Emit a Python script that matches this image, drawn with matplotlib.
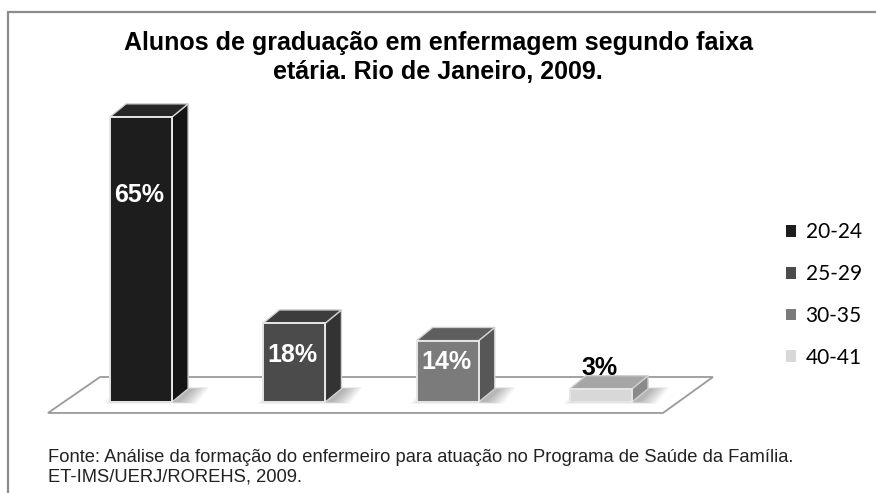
import numpy as np
import matplotlib.pyplot as plt
from matplotlib.patches import Polygon, Rectangle, Patch

faixas = ['20-24', '25-29', '30-35', '40-41']
valores = [65, 18, 14, 3]
rotulos = ['65%', '18%', '14%', '3%']
cor_frente = ['#1d1d1d', '#4b4b4b', '#7b7b7b', '#d8d8d8']
cor_lado = ['#141414', '#333333', '#575757', '#8a8a8a']
cor_topo = ['#262626', '#3d3d3d', '#5e5e5e', '#a6a6a6']
cor_texto = ['white', 'white', 'white', 'black']

W, H = 876, 493
fig = plt.figure(figsize=(W / 100, H / 100), dpi=100)

# moldura (cortada a direita e embaixo)
fig.patches.append(Rectangle((8 / W, -0.1), 1.2, 1 - 12 / H + 0.1, transform=fig.transFigure,
                             fill=False, ec='#8c8c8c', lw=1.6))

# eixos: centro da barra i em 141 + 153.3*i px, valor 0 em y=402 px, 4.385 px por %
esq, dir_, topo, base = 40, 730, 80, 420
ax = fig.add_axes([esq / W, 1 - base / H, (dir_ - esq) / W, (base - topo) / H])
ax.set_xlim((esq - 141) / 153.3, (dir_ - 141) / 153.3)
ax.set_ylim(-(base - 402) / 4.385, (402 - topo) / 4.385)
ax.axis('off')

# piso
piso = [(-0.607, -2.5), (3.405, -2.5), (3.731, 5.7), (-0.267, 5.7)]
ax.add_patch(Polygon(piso, closed=True, fc='white', ec='#9a9a9a', lw=1.3, zorder=1))

larg = 0.405
dx, dy = 0.105, 3.0
for i, v in enumerate(valores):
    x0, x1 = i - larg / 2, i + larg / 2
    # sombra suave
    for k in range(10):
        e = 0.012 * k
        ax.add_patch(Polygon([(x0 - 0.04 + e, -0.4 + 0.05 * k), (x1 + 0.16 - e, -0.4 + 0.05 * k),
                              (x1 + dx + 0.14 - e, dy + 0.4 - 0.05 * k), (x0 + 0.05 + e, dy + 0.4 - 0.05 * k)],
                             closed=True, fc='black', alpha=0.03, lw=0, zorder=2))
    frente = [(x0, 0), (x1, 0), (x1, v), (x0, v)]
    lado = [(x1, 0), (x1 + dx, dy), (x1 + dx, v + dy), (x1, v)]
    cima = [(x0, v), (x1, v), (x1 + dx, v + dy), (x0 + dx, v + dy)]
    ax.add_patch(Polygon(lado, closed=True, fc=cor_lado[i], ec='#d0d0d0', lw=1.0, zorder=3))
    ax.add_patch(Polygon(cima, closed=True, fc=cor_topo[i], ec='#d0d0d0', lw=1.0, zorder=3))
    ax.add_patch(Polygon(frente, closed=True, fc=cor_frente[i], ec='#e6e6e6', lw=1.4, zorder=4))

# rotulos de dados
pos_rot = [47.2, 10.7, 9.1, 7.8]
for i, r in enumerate(rotulos):
    ax.text(i - 0.01, pos_rot[i], r, ha='center', va='center', color=cor_texto[i],
            fontsize=18, fontweight='bold', family='Liberation Sans', zorder=5)

fig.text(0.5, 1 - 43 / H, 'Alunos de graduação em enfermagem segundo faixa',
         ha='center', va='center', fontsize=18, fontweight='bold', family='Liberation Sans')
fig.text(0.5, 1 - 72 / H, 'etária. Rio de Janeiro, 2009.',
         ha='center', va='center', fontsize=18, fontweight='bold', family='Liberation Sans')

handles = [Patch(fc=c, ec='none') for c in cor_frente]
fig.legend(handles, faixas, loc='center left', bbox_to_anchor=(767 / W, 1 - 295 / H),
           frameon=False, prop={'family': 'Lato', 'size': 15}, handlelength=0.5,
           handleheight=0.5, labelspacing=1.05, handletextpad=0.45)

fig.text(48 / W, 1 - 458 / H,
         'Fonte: Análise da formação do enfermeiro para atuação no Programa de Saúde da Família.',
         ha='left', va='center', fontsize=13.2, family='Liberation Sans', color='#222222')
fig.text(48 / W, 1 - 477 / H, 'ET-IMS/UERJ/ROREHS, 2009.',
         ha='left', va='center', fontsize=13.2, family='Liberation Sans', color='#222222')

fig.savefig('out.png', dpi=100)
